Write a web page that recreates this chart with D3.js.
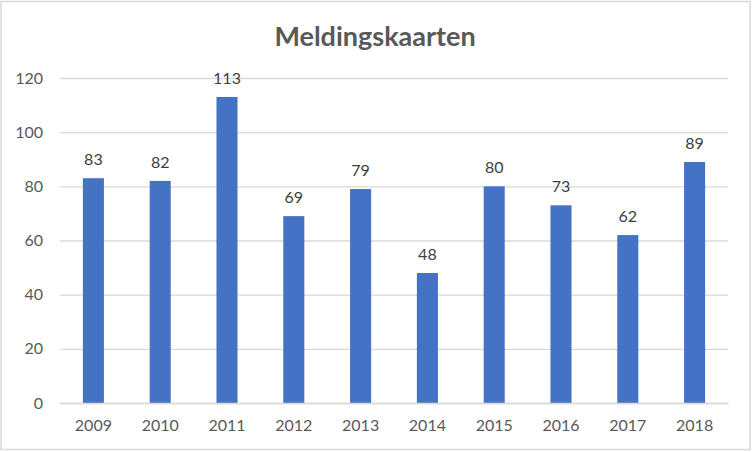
<!DOCTYPE html>
<html><head><meta charset="utf-8">
<script src="https://cdn.jsdelivr.net/npm/d3@7"></script>
<style>body{margin:0;background:#fff}svg{display:block}</style>
</head><body>
<script>
const title = "Meldingskaarten";
const categories = ["2009","2010","2011","2012","2013","2014","2015","2016","2017","2018"];
const values = [83,82,113,69,79,48,80,73,62,89];
const yTicks = [0,20,40,60,80,100,120];

const W = 752, H = 452;
const margin = {left:60, right:24, top:78, bottom:49};
const font = "Lato, 'Open Sans', sans-serif";
const svg = d3.select("body").append("svg").attr("width",W).attr("height",H);
svg.append("rect").attr("x",1).attr("y",1.5).attr("width",W-3).attr("height",H-4)
  .attr("fill","#fff").attr("stroke","#d9d9d9").attr("stroke-width",1.5);

const x = d3.scaleBand().domain(categories).range([margin.left, W-margin.right]).paddingInner(0.685).paddingOuter(0.3425);
const y = d3.scaleLinear().domain([0,120]).range([H-margin.bottom, margin.top]);

svg.append("text").attr("x",375).attr("y",46).attr("text-anchor","middle")
  .attr("font-family",font).attr("font-weight","bold").attr("font-size",27).attr("fill","#595959").text(title);

const yAxis = svg.append("g").attr("transform",`translate(${margin.left},0)`)
  .call(d3.axisLeft(y).tickValues(yTicks).tickSize(-(W-margin.left-margin.right)).tickPadding(17));
yAxis.select(".domain").remove();
yAxis.selectAll(".tick line").attr("stroke","#d9d9d9").attr("stroke-width",1.3);
yAxis.selectAll("text").attr("font-family",font).attr("font-size",16).attr("fill","#595959");

svg.append("g").selectAll("rect").data(values).join("rect")
  .attr("x",(d,i)=>x(categories[i])).attr("width",x.bandwidth())
  .attr("y",d=>y(d)).attr("height",d=>y(0)-y(d)).attr("fill","#4472C4");

svg.append("g").selectAll("text").data(values).join("text")
  .attr("x",(d,i)=>x(categories[i])+x.bandwidth()/2).attr("y",d=>y(d)-13)
  .attr("text-anchor","middle").attr("font-family",font).attr("font-size",16).attr("fill","#404040").text(d=>d);

const xAxis = svg.append("g").attr("transform",`translate(0,${y(0)})`)
  .call(d3.axisBottom(x).tickSize(0).tickPadding(17));
xAxis.select(".domain").attr("stroke","#d9d9d9").attr("stroke-width",1.3);
xAxis.selectAll("text").attr("font-family",font).attr("font-size",16).attr("fill","#595959");
</script>
</body></html>
